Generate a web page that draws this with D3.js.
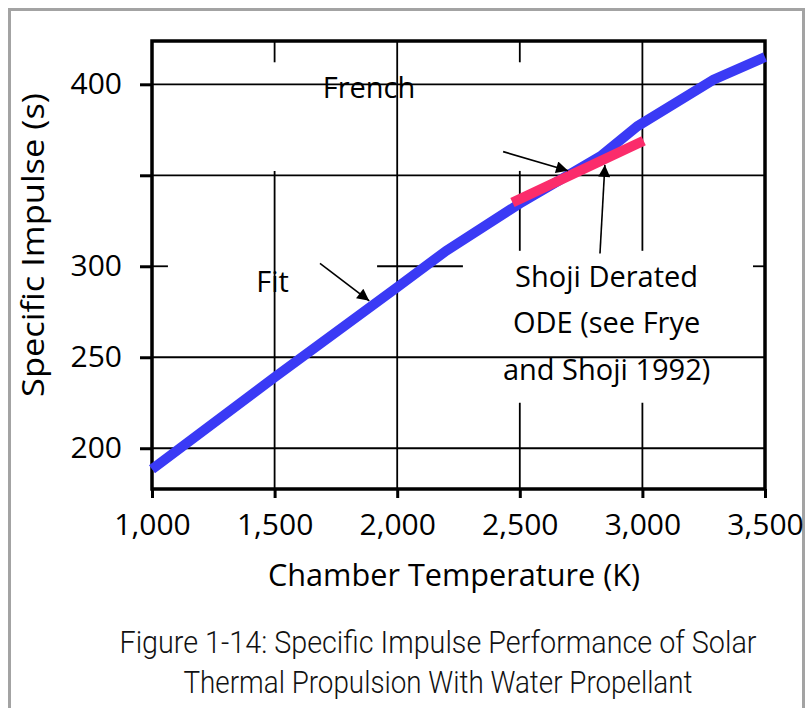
<!DOCTYPE html>
<html>
<head>
<meta charset="utf-8">
<script src="https://cdn.jsdelivr.net/npm/d3@7"></script>
<style>
  body { margin: 0; background: #fff; }
  svg { display: block; }
  .axis text { font-family: 'Open Sans', sans-serif; font-size: 30px; fill: #000; }
  .note { font-family: 'Open Sans', sans-serif; font-size: 29px; fill: #000; }
  .title { font-family: 'Open Sans', sans-serif; font-size: 31px; fill: #000; }
  .caption { font-family: Roboto, sans-serif; font-weight: 300; font-size: 31px; fill: #111; }
</style>
</head>
<body>
<svg id="chart" width="807" height="708"></svg>
<script>
// chamber temperature (K) vs specific impulse (s)
const fitTemps = [1000, 1500, 2000, 2200, 2500, 2830, 2980, 3290, 3500];
const fitIsp = [188.5, 239, 288.5, 308.5, 334.5, 360.5, 377, 402.5, 415];

const shojiTemps = [2470, 3005];
const shojiIsp = [335, 369];

const xTicks = [1000, 1500, 2000, 2500, 3000, 3500];
const yTicks = [200, 250, 300, 350, 400];
const yTickLabels = ['200', '250', '300', '', '400'];

// grid lines are broken where the labels sat in the original
const vGrid = [
  { t: 1500, spans: [[null, 352.4], [412.1, null]] },
  { t: 2000, spans: [[null, null]] },
  { t: 2500, spans: [[null, 225], [308.5, 352.4], [412.1, null]] },
  { t: 3000, spans: [[null, 225], [308.5, null]] }
];
const hGrid = [
  { v: 200, spans: [[null, null]] },
  { v: 250, spans: [[null, null]] },
  { v: 300, spans: [[null, 1065], [1918, 2268], [3451, null]] },
  { v: 350, spans: [[null, null]] },
  { v: 400, spans: [[null, null]] }
];

const labels = [
  { text: 'French', t: 1885, v: 392.3 },
  { text: 'Fit', t: 1492, v: 286 },
  { text: 'Shoji Derated', t: 2854, v: 288.8 },
  { text: 'ODE (see Frye', t: 2854, v: 263.2 },
  { text: 'and Shoji 1992)', t: 2854, v: 237.5 }
];
const arrows = [
  { from: [2432, 363], to: [2697, 352.5] },
  { from: [2827, 307], to: [2847, 355.7] },
  { from: [1685, 301.6], to: [1886, 281] }
];

const captionLines = [
  'Figure 1-14: Specific Impulse Performance of Solar',
  'Thermal Propulsion With Water Propellant'
];

const plotLeft = 152, plotTop = 41, plotRight = 765, plotBottom = 489;
const svg = d3.select('#chart');

const x = d3.scaleLinear().domain([1000, 3500]).range([plotLeft, plotRight]);
const y = d3.scaleLinear().domain([177.6, 423.8]).range([plotBottom, plotTop]);
const [x0, x1] = x.domain();
const [y0, y1] = y.domain();

// outer frame
svg.append('rect')
  .attr('x', 9.5).attr('y', 9.5)
  .attr('width', 794).attr('height', 740)
  .attr('fill', 'none')
  .attr('stroke', '#a3a3a3')
  .attr('stroke-width', 3);

const grid = svg.append('g').attr('stroke', '#000').attr('stroke-width', 1.8);

vGrid.forEach(g => {
  grid.selectAll(null)
    .data(g.spans)
    .join('line')
    .attr('x1', x(g.t)).attr('x2', x(g.t))
    .attr('y1', d => y(d[0] == null ? y0 : d[0]))
    .attr('y2', d => y(d[1] == null ? y1 : d[1]));
});
hGrid.forEach(g => {
  grid.selectAll(null)
    .data(g.spans)
    .join('line')
    .attr('y1', y(g.v)).attr('y2', y(g.v))
    .attr('x1', d => x(d[0] == null ? x0 : d[0]))
    .attr('x2', d => x(d[1] == null ? x1 : d[1]));
});

// axes
const axisY = d3.axisLeft(y)
  .tickValues(yTicks)
  .tickFormat((d, i) => yTickLabels[i])
  .tickSize(12)
  .tickPadding(18);
const gy = svg.append('g').attr('class', 'axis').attr('transform', `translate(${plotLeft},0)`).call(axisY);
gy.select('.domain').remove();
gy.selectAll('.tick line').attr('stroke', '#000').attr('stroke-width', 3);

const axisX = d3.axisBottom(x)
  .tickValues(xTicks)
  .tickFormat(d3.format(','))
  .tickSize(9)
  .tickPadding(16);
const gx = svg.append('g').attr('class', 'axis').attr('transform', `translate(0,${plotBottom})`).call(axisX);
gx.select('.domain').remove();
gx.selectAll('.tick line').attr('stroke', '#000').attr('stroke-width', 3);

// plot frame
svg.append('rect')
  .attr('x', plotLeft).attr('y', plotTop)
  .attr('width', plotRight - plotLeft).attr('height', plotBottom - plotTop)
  .attr('fill', 'none')
  .attr('stroke', '#000')
  .attr('stroke-width', 3.5);

// series
const line = d3.line().x(d => x(d[0])).y(d => y(d[1]));

svg.append('path')
  .datum(d3.zip(fitTemps, fitIsp))
  .attr('d', line)
  .attr('fill', 'none')
  .attr('stroke', '#3a3af5')
  .attr('stroke-width', 10);

svg.append('path')
  .datum(d3.zip(shojiTemps, shojiIsp))
  .attr('d', line)
  .attr('fill', 'none')
  .attr('stroke', '#fb2c6b')
  .attr('stroke-width', 10);

// annotations
svg.append('defs').append('marker')
  .attr('id', 'head')
  .attr('viewBox', '0 0 10 10')
  .attr('refX', 10).attr('refY', 5)
  .attr('markerUnits', 'userSpaceOnUse')
  .attr('markerWidth', 16).attr('markerHeight', 12)
  .attr('orient', 'auto')
  .append('path')
  .attr('d', 'M0,0L10,5L0,10Z')
  .attr('fill', '#000');

svg.selectAll('.arrow')
  .data(arrows)
  .join('line')
  .attr('class', 'arrow')
  .attr('x1', d => x(d.from[0])).attr('y1', d => y(d.from[1]))
  .attr('x2', d => x(d.to[0])).attr('y2', d => y(d.to[1]))
  .attr('stroke', '#000')
  .attr('stroke-width', 1.6)
  .attr('marker-end', 'url(#head)');

svg.selectAll('.note')
  .data(labels)
  .join('text')
  .attr('class', 'note')
  .attr('x', d => x(d.t))
  .attr('y', d => y(d.v))
  .attr('text-anchor', 'middle')
  .text(d => d.text);

// axis titles
svg.append('text')
  .attr('class', 'title')
  .attr('x', 454).attr('y', 586)
  .attr('text-anchor', 'middle')
  .attr('textLength', 372)
  .attr('lengthAdjust', 'spacingAndGlyphs')
  .text('Chamber Temperature (K)');

svg.append('text')
  .attr('class', 'title')
  .attr('transform', 'translate(44,245) rotate(-90)')
  .attr('text-anchor', 'middle')
  .attr('textLength', 304)
  .attr('lengthAdjust', 'spacingAndGlyphs')
  .text('Specific Impulse (s)');

// caption
svg.selectAll('.caption')
  .data(captionLines)
  .join('text')
  .attr('class', 'caption')
  .attr('x', 438)
  .attr('y', (d, i) => 653 + i * 40)
  .attr('text-anchor', 'middle')
  .attr('textLength', (d, i) => (i === 0 ? 637 : 509))
  .attr('lengthAdjust', 'spacingAndGlyphs')
  .text(d => d);
</script>
</body>
</html>
